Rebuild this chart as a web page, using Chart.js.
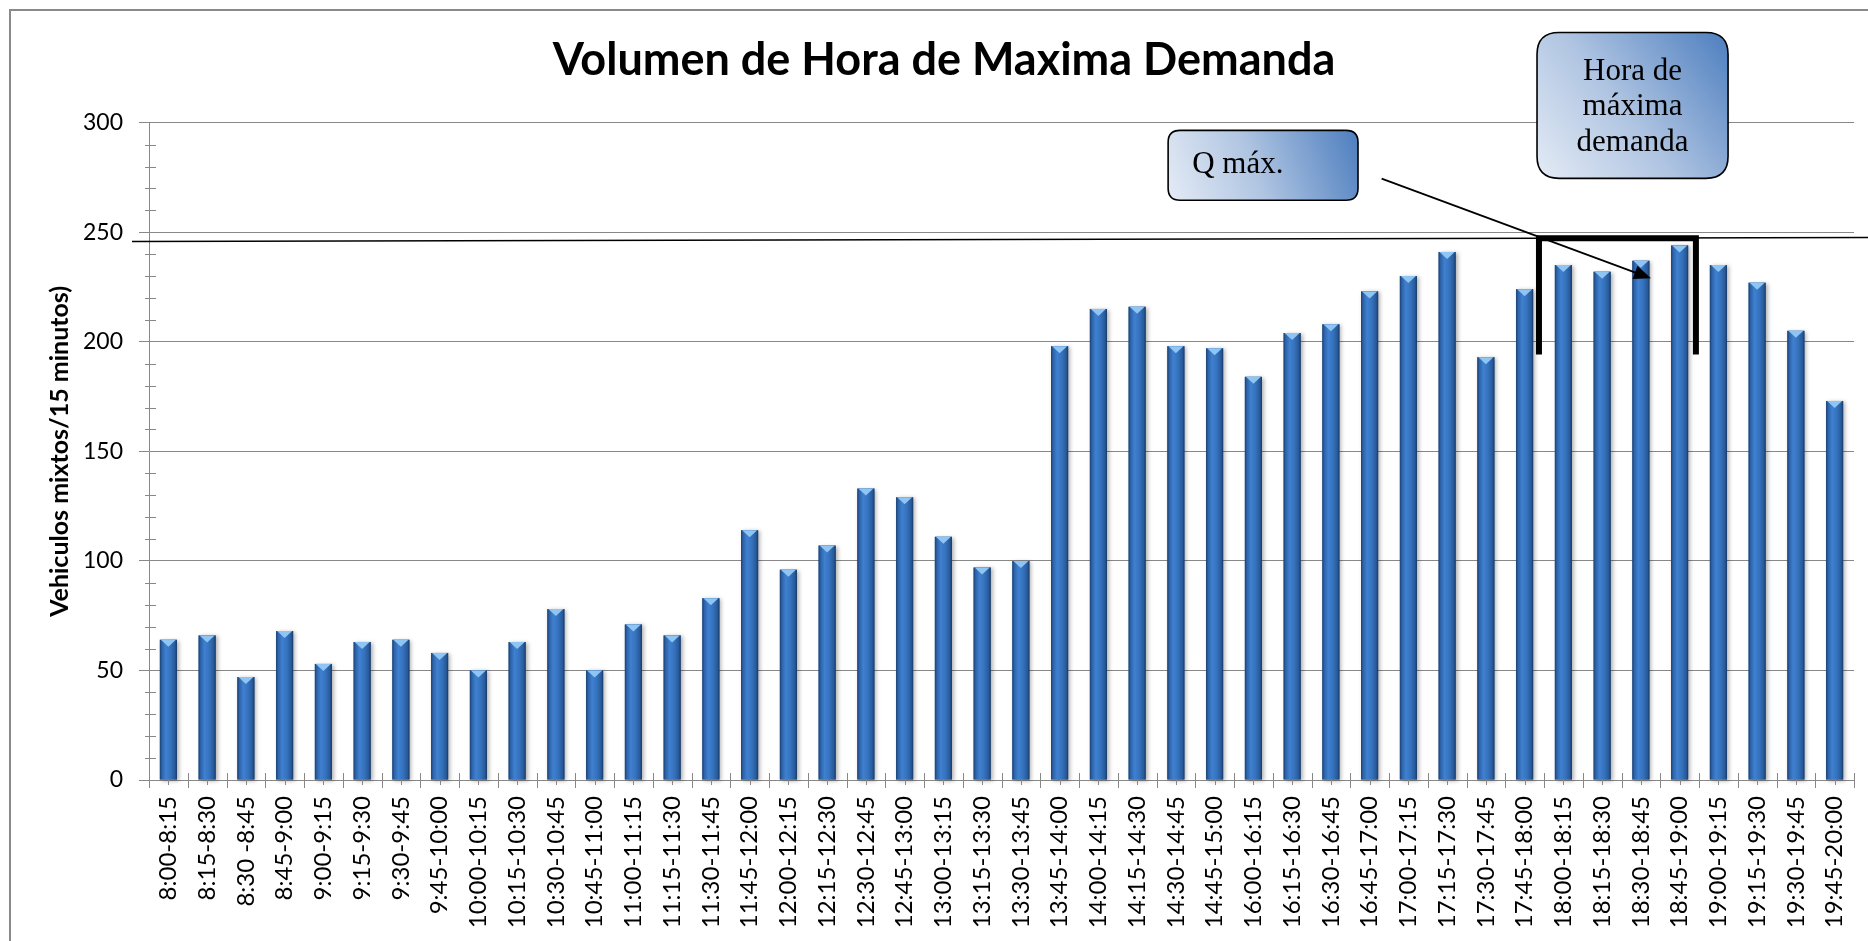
<!DOCTYPE html>
<html>
<head>
<meta charset="utf-8">
<script src="https://cdn.jsdelivr.net/npm/chart.js@4"></script>
<style>
  body { margin: 0; background: #fff; }
  canvas { display: block; }
</style>
</head>
<body>
<canvas id="hmdChart" width="1868" height="941"></canvas>
<script>
// 15-minute counting intervals (15:00-16:00 was not counted)
const intervals = [
  "8:00-8:15", "8:15-8:30", "8:30 -8:45", "8:45-9:00", "9:00-9:15", "9:15-9:30",
  "9:30-9:45", "9:45-10:00", "10:00-10:15", "10:15-10:30", "10:30-10:45", "10:45-11:00",
  "11:00-11:15", "11:15-11:30", "11:30-11:45", "11:45-12:00", "12:00-12:15", "12:15-12:30",
  "12:30-12:45", "12:45-13:00", "13:00-13:15", "13:15-13:30", "13:30-13:45", "13:45-14:00",
  "14:00-14:15", "14:15-14:30", "14:30-14:45", "14:45-15:00", "16:00-16:15", "16:15-16:30",
  "16:30-16:45", "16:45-17:00", "17:00-17:15", "17:15-17:30", "17:30-17:45", "17:45-18:00",
  "18:00-18:15", "18:15-18:30", "18:30-18:45", "18:45-19:00", "19:00-19:15", "19:15-19:30",
  "19:30-19:45", "19:45-20:00"
];

// mixed vehicles counted per interval
const volumes = [
  64, 66, 47, 68, 53, 63,
  64, 58, 50, 63, 78, 50,
  71, 66, 83, 114, 96, 107,
  133, 129, 111, 97, 100, 198,
  215, 216, 198, 197, 184, 204,
  208, 223, 230, 241, 193, 224,
  235, 232, 237, 244, 235, 227,
  205, 173
];

const yTicks = [0, 50, 100, 150, 200, 250, 300];

// peak hour = 18:00-19:00
const peakFirst = 36;
const peakLast = 39;

const GRID = "#888888";

function roundBox(ctx, x, y, w, h, r) {
  ctx.beginPath();
  ctx.moveTo(x + r, y);
  ctx.lineTo(x + w - r, y);
  ctx.quadraticCurveTo(x + w, y, x + w, y + r);
  ctx.lineTo(x + w, y + h - r);
  ctx.quadraticCurveTo(x + w, y + h, x + w - r, y + h);
  ctx.lineTo(x + r, y + h);
  ctx.quadraticCurveTo(x, y + h, x, y + h - r);
  ctx.lineTo(x, y + r);
  ctx.quadraticCurveTo(x, y, x + r, y);
  ctx.closePath();
}

function fillBox(ctx, x, y, w, h, r) {
  const g = ctx.createLinearGradient(x, y + h, x + w, y);
  g.addColorStop(0, "#e4ebf5");
  g.addColorStop(0.45, "#b0c5e2");
  g.addColorStop(1, "#4d7ebf");
  roundBox(ctx, x, y, w, h, r);
  ctx.fillStyle = g;
  ctx.fill();
  ctx.lineWidth = 1.6;
  ctx.strokeStyle = "#000";
  ctx.stroke();
}

// outer frame of the chart object
const framePlugin = {
  id: "frame",
  beforeDraw(chart) {
    const ctx = chart.ctx;
    ctx.save();
    ctx.fillStyle = "#fff";
    ctx.fillRect(0, 0, chart.width, chart.height);
    ctx.strokeStyle = "#8a8a8a";
    ctx.lineWidth = 2;
    ctx.strokeRect(10, 10, chart.width + 50, chart.height + 50);
    ctx.restore();
  }
};

// minor ticks on the value axis, crossing ticks on the category axis
const tickPlugin = {
  id: "axisTicks",
  afterDraw(chart) {
    const ctx = chart.ctx;
    const x = chart.scales.x, y = chart.scales.y;
    const area = chart.chartArea;
    ctx.save();
    ctx.strokeStyle = GRID;
    ctx.lineWidth = 1;
    ctx.beginPath();
    for (let v = 10; v < 300; v += 10) {
      if (v % 50 === 0) continue;
      const py = Math.round(y.getPixelForValue(v)) + 0.5;
      ctx.moveTo(area.left - 4, py);
      ctx.lineTo(area.left + 7, py);
    }
    const step = x.getPixelForValue(1) - x.getPixelForValue(0);
    for (let i = 0; i <= intervals.length; i++) {
      const px = Math.round(x.getPixelForValue(i) - step / 2) + 0.5;
      ctx.moveTo(px, area.bottom - 7);
      ctx.lineTo(px, area.bottom + 8);
    }
    for (let i = 0; i < intervals.length; i++) {
      const px = Math.round(x.getPixelForValue(i)) + 0.5;
      ctx.moveTo(px, area.bottom);
      ctx.lineTo(px, area.bottom + 5);
    }
    ctx.stroke();
    ctx.restore();
  }
};

// bevelled look of the columns
const shadePlugin = {
  id: "columnShade",
  afterDatasetsDraw(chart) {
    const ctx = chart.ctx;
    const meta = chart.getDatasetMeta(0);
    ctx.save();
    meta.data.forEach(bar => {
      const { x, y, base, width } = bar.getProps(["x", "y", "base", "width"], true);
      const left = x - width / 2;
      const g = ctx.createLinearGradient(left, 0, left + width, 0);
      g.addColorStop(0, "#1b3f70");
      g.addColorStop(0.12, "#2d63a9");
      g.addColorStop(0.35, "#3f80d0");
      g.addColorStop(0.62, "#3673be");
      g.addColorStop(0.88, "#285a9b");
      g.addColorStop(1, "#183a66");
      ctx.shadowColor = "rgba(0,0,0,0.3)";
      ctx.shadowBlur = 4;
      ctx.shadowOffsetX = 2;
      ctx.shadowOffsetY = 1;
      ctx.fillStyle = g;
      ctx.fillRect(left, y, width, base - y);
      ctx.shadowColor = "transparent";
      // light cap at the top of each column
      ctx.beginPath();
      ctx.moveTo(left + 1, y);
      ctx.lineTo(left + width - 1, y);
      ctx.lineTo(x, y + 7);
      ctx.closePath();
      ctx.fillStyle = "#8ec5f3";
      ctx.fill();
    });
    ctx.restore();
  }
};

// Q max line, peak-hour bracket, arrow and callouts
const notePlugin = {
  id: "peakNotes",
  afterDraw(chart) {
    const ctx = chart.ctx;
    const x = chart.scales.x, y = chart.scales.y;
    const area = chart.chartArea;
    const step = x.getPixelForValue(1) - x.getPixelForValue(0);
    ctx.save();

    // Q max reference line
    ctx.strokeStyle = "#000";
    ctx.lineWidth = 1.6;
    ctx.beginPath();
    ctx.moveTo(area.left - 17, y.getPixelForValue(245.8));
    ctx.lineTo(chart.width, y.getPixelForValue(247.6));
    ctx.stroke();

    // bracket over the peak hour
    const bl = x.getPixelForValue(peakFirst) - 0.63 * step;
    const br = x.getPixelForValue(peakLast) + 0.42 * step;
    const bt = y.getPixelForValue(247.3);
    const bb = y.getPixelForValue(194.2);
    ctx.lineWidth = 6;
    ctx.lineJoin = "miter";
    ctx.beginPath();
    ctx.moveTo(bl, bb);
    ctx.lineTo(bl, bt);
    ctx.lineTo(br, bt);
    ctx.lineTo(br, bb);
    ctx.stroke();

    // arrow from the Q max callout
    const ax0 = x.getPixelForValue(31.31), ay0 = y.getPixelForValue(274.5);
    const ax1 = x.getPixelForValue(38.26), ay1 = y.getPixelForValue(229);
    const ang = Math.atan2(ay1 - ay0, ax1 - ax0);
    const head = 17;
    ctx.lineWidth = 1.8;
    ctx.beginPath();
    ctx.moveTo(ax0, ay0);
    ctx.lineTo(ax1 - Math.cos(ang) * head * 0.8, ay1 - Math.sin(ang) * head * 0.8);
    ctx.stroke();
    ctx.beginPath();
    ctx.moveTo(ax1, ay1);
    ctx.lineTo(ax1 - head * Math.cos(ang) + 7 * Math.sin(ang), ay1 - head * Math.sin(ang) - 7 * Math.cos(ang));
    ctx.lineTo(ax1 - head * Math.cos(ang) - 7 * Math.sin(ang), ay1 - head * Math.sin(ang) + 7 * Math.cos(ang));
    ctx.closePath();
    ctx.fillStyle = "#000";
    ctx.fill();

    // "Q máx." callout
    const qx = x.getPixelForValue(25.8), qr = x.getPixelForValue(30.7);
    const qy = y.getPixelForValue(296.5), qb = y.getPixelForValue(264.6);
    fillBox(ctx, qx, qy, qr - qx, qb - qy, 12);
    ctx.fillStyle = "#000";
    ctx.font = '31px "Liberation Serif"';
    ctx.textAlign = "left";
    ctx.textBaseline = "alphabetic";
    ctx.fillText("Q máx.", qx + 24, qy + 43);

    // "Hora de máxima demanda" callout
    const hx = x.getPixelForValue(35.32), hr = x.getPixelForValue(40.25);
    const hy = y.getPixelForValue(341.2), hb = y.getPixelForValue(274.6);
    fillBox(ctx, hx, hy, hr - hx, hb - hy, 22);
    ctx.fillStyle = "#000";
    ctx.textAlign = "center";
    const hc = (hx + hr) / 2;
    ctx.fillText("Hora de", hc, hy + 48);
    ctx.fillText("máxima", hc, hy + 83);
    ctx.fillText("demanda", hc, hy + 119);

    ctx.restore();
  }
};

new Chart(document.getElementById("hmdChart"), {
  type: "bar",
  data: {
    labels: intervals,
    datasets: [{
      label: "Vehiculos mixtos",
      data: volumes,
      backgroundColor: "#3069b0",
      borderWidth: 0,
      barPercentage: 0.44,
      categoryPercentage: 1.0
    }]
  },
  options: {
    responsive: false,
    animation: false,
    events: [],
    layout: { padding: { left: 34, right: 14, top: 0, bottom: 0 } },
    plugins: {
      legend: { display: false },
      tooltip: { enabled: false },
      title: {
        display: true,
        text: "Volumen de Hora de Maxima Demanda",
        color: "#000",
        font: { family: "Lato", size: 45, weight: "bold", lineHeight: 1.2 },
        padding: { top: 33, bottom: 35.7 }
      }
    },
    scales: {
      x: {
        afterFit(scale) {
          scale.height = 161;
          // rotated labels need no extra room at the ends
          scale.paddingLeft = 0;
          scale.paddingRight = 0;
        },
        grid: { display: true, drawOnChartArea: false, drawTicks: false, offset: true },
        border: { display: true, color: GRID, width: 1 },
        ticks: {
          autoSkip: false,
          minRotation: 90,
          maxRotation: 90,
          padding: 16,
          color: "#000",
          font: { family: "Lato", size: 24 }
        }
      },
      y: {
        min: 0,
        max: 300,
        afterFit(scale) { scale.width = 115; },
        afterBuildTicks(scale) { scale.ticks = yTicks.map(v => ({ value: v })); },
        grid: { color: GRID, lineWidth: 1, drawTicks: true, tickLength: 10, tickColor: GRID },
        border: { display: true, color: GRID, width: 1 },
        ticks: {
          padding: 16,
          color: "#000",
          font: { family: "Lato", size: 23 }
        },
        title: {
          display: true,
          text: "Vehiculos mixtos/15 minutos)",
          color: "#000",
          font: { family: "Lato", size: 25, weight: "bold", lineHeight: 1.2 },
          padding: { top: 11, bottom: 0 }
        }
      }
    }
  },
  plugins: [framePlugin, tickPlugin, shadePlugin, notePlugin]
});
</script>
</body>
</html>
